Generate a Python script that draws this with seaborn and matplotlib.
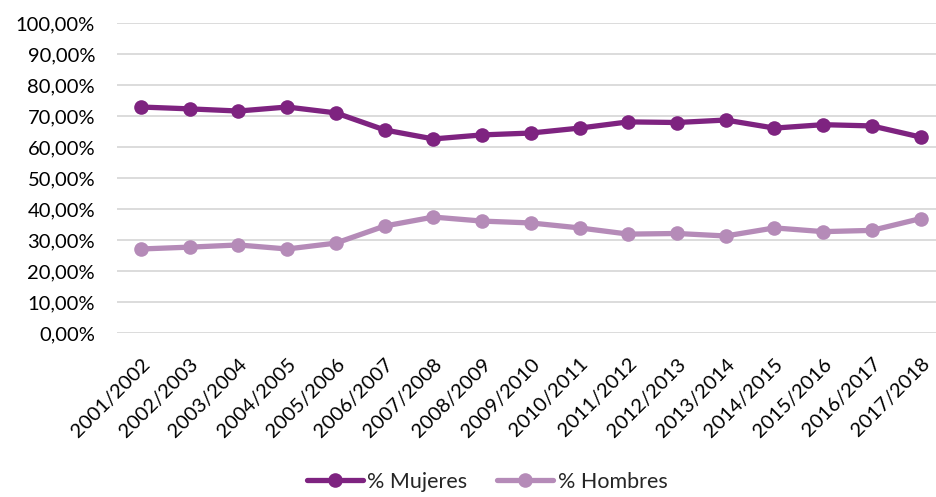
import matplotlib
matplotlib.use("Agg")
import matplotlib.pyplot as plt
import seaborn as sns
import pandas as pd
from matplotlib.ticker import FuncFormatter

years = ["2001/2002", "2002/2003", "2003/2004", "2004/2005", "2005/2006", "2006/2007",
         "2007/2008", "2008/2009", "2009/2010", "2010/2011", "2011/2012", "2012/2013",
         "2013/2014", "2014/2015", "2015/2016", "2016/2017", "2017/2018"]
mujeres = [72.9, 72.3, 71.6, 72.9, 71.0, 65.5, 62.6, 63.9, 64.5, 66.1, 68.1, 67.9,
           68.7, 66.1, 67.2, 66.8, 63.2]
hombres = [27.1, 27.7, 28.4, 27.1, 29.0, 34.5, 37.4, 36.1, 35.5, 33.9, 31.9, 32.1,
           31.3, 33.9, 32.7, 33.1, 36.9]
series_names = ["% Mujeres", "% Hombres"]
colors = ["#7E2380", "#B58BB8"]

sns.set_style("white")
plt.rcParams['font.family'] = ['Lato', 'DejaVu Sans']

df = pd.DataFrame({
    "year": years * 2,
    "x": list(range(len(years))) * 2,
    "value": [v / 100 for v in mujeres] + [v / 100 for v in hombres],
    "serie": [series_names[0]] * len(years) + [series_names[1]] * len(years),
})

fig = plt.figure(figsize=(9.36, 4.97), dpi=100)
ax_w = (945 - 116.6) / 936
ax = fig.add_axes([116.6 / 936, 164 / 497, ax_w, 310 / 497])

sns.lineplot(data=df, x="x", y="value", hue="serie", palette=colors, ax=ax,
             marker="o", markersize=10.5, linewidth=3.8, markeredgewidth=0,
             sort=False, zorder=3)

ax.set_xlim(-0.5, len(years) - 0.5)
ax.set_ylim(0, 1.0)
ax.set_yticks([i / 10 for i in range(11)])
ax.yaxis.set_major_formatter(FuncFormatter(lambda v, p: f"{v*100:.2f}%".replace(".", ",")))
ax.set_xticks(range(len(years)))
ax.set_xticklabels(years, rotation=45, ha="right", rotation_mode="anchor")
ax.tick_params(axis="both", labelsize=14.5, length=0, colors="#000000")
ax.tick_params(axis="x", pad=16)
ax.tick_params(axis="y", pad=15.5)
ax.grid(axis="y", color="#D9D9D9", linewidth=1.3, zorder=0)
ax.grid(axis="x", visible=False)
for s in ax.spines.values():
    s.set_visible(False)
ax.set_xlabel("")
ax.set_ylabel("")

leg = ax.legend(loc="center", bbox_to_anchor=((487 - 116.6) / (945 - 116.6), -149 / 310),
                ncol=2, frameon=False, fontsize=15.5, handlelength=2.6, columnspacing=1.4,
                handletextpad=0.2)
for line in leg.get_lines():
    line.set_linewidth(3.8)
    line.set_markersize(10.5)

fig.savefig("out.png", dpi=100, facecolor="white")
